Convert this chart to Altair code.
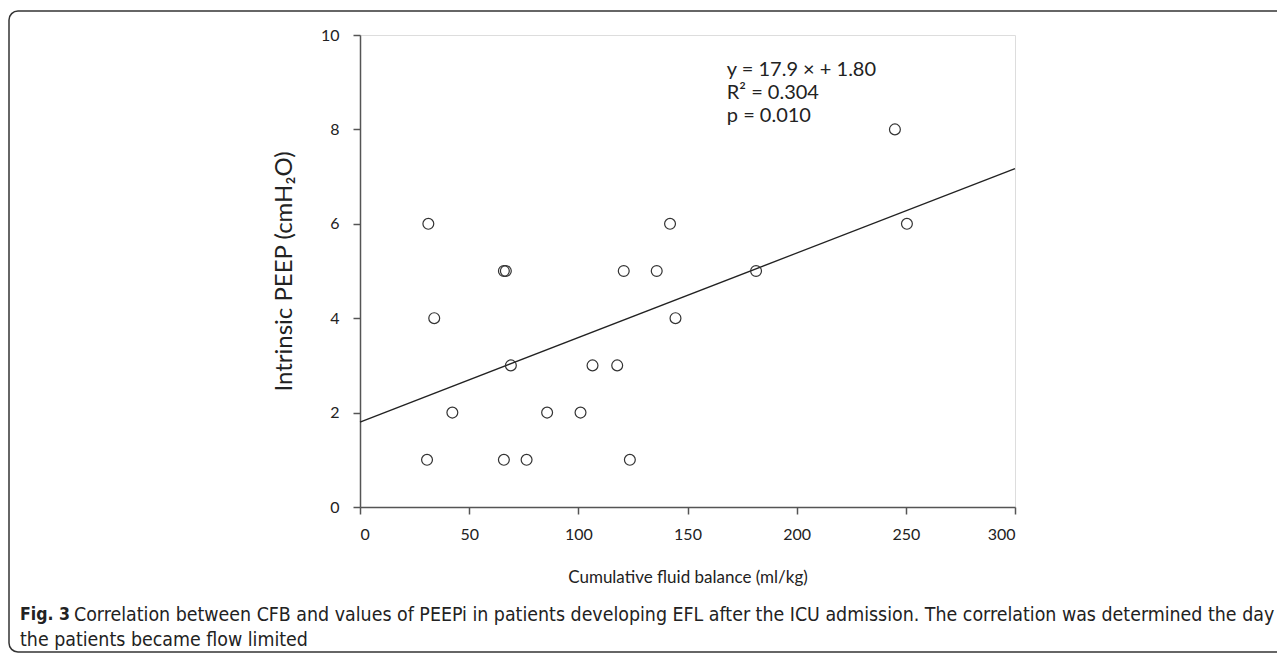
import math
import altair as alt
import pandas as pd

# Data
cfb = [30.7, 31.3, 34.0, 42.3, 65.9, 65.9, 66.8, 69.1, 76.3, 85.7, 101.0,
       106.5, 117.8, 120.8, 123.6, 135.9, 142.0, 144.5, 181.4, 245.0, 250.5]
peepi = [1, 6, 4, 2, 1, 5, 5, 3, 1, 2, 2,
         3, 3, 5, 1, 5, 6, 4, 5, 8, 6]

slope = 17.9   # per L/kg
intercept = 1.80
line_x = [0, 300]

annot_lines = ["y = 17.9 \u00d7 + 1.80", "R\u00b2 = 0.304", "p = 0.010"]
annot_y = [9.25, 8.78, 8.28]
annot_x = [168, 168, 168]

caption_bold = "Fig. 3"
caption_l1 = ("Correlation between CFB and values of PEEPi in patients developing EFL "
              "after the ICU admission. The correlation was determined the day")
caption_l2 = "the patients became flow limited"

pts = pd.DataFrame({"cfb": cfb, "peepi": peepi})
reg = pd.DataFrame({"cfb": line_x,
                    "peepi": [intercept + slope * v / 1000 for v in line_x]})
ann = pd.DataFrame({"cfb": annot_x, "peepi": annot_y, "t": annot_lines})

xs = alt.Scale(domain=[0, 300], nice=False)
ys = alt.Scale(domain=[0, 10], nice=False)

xax = alt.Axis(values=[0, 50, 100, 150, 200, 250, 300], grid=False, tickSize=7,
               labelPadding=12, titlePadding=27, labelFontSize=16, titleFontSize=17,
               labelFont="Lato", titleFont="Lato", titleFontWeight="normal",
               domainColor="#555", tickColor="#555", domainWidth=1.5, tickWidth=1.5,
               labelColor="#222", titleColor="#222")
yax = alt.Axis(values=[0, 2, 4, 6, 8, 10], grid=False, tickSize=7,
               labelPadding=14, titlePadding=24, labelFontSize=16, titleFontSize=24,
               labelFont="Lato", titleFont="Lato", titleFontWeight="normal",
               domainColor="#555", tickColor="#555", domainWidth=1.5, tickWidth=1.5,
               labelColor="#222", titleColor="#222")

points = alt.Chart(pts).mark_point(filled=False, size=118, stroke="#333",
                                   strokeWidth=1.2, opacity=1).encode(
    x=alt.X("cfb:Q", scale=xs, axis=xax, title="Cumulative fluid balance (ml/kg)"),
    y=alt.Y("peepi:Q", scale=ys, axis=yax, title="Intrinsic PEEP (cmH\u2082O)"),
)

line = alt.Chart(reg).mark_line(color="#222", strokeWidth=1.3).encode(
    x=alt.X("cfb:Q", scale=xs), y=alt.Y("peepi:Q", scale=ys))

text = alt.Chart(ann).mark_text(align="left", baseline="middle", font="Lato",
                                fontSize=20, color="#222").encode(
    x=alt.X("cfb:Q", scale=xs), y=alt.Y("peepi:Q", scale=ys), text="t:N")

# Decorative figure frame (rounded on the left, open at the right edge)
one = pd.DataFrame({"k": [0]})
FL, FT, FB, R, FR = -351, -24, 617, 9, 917
fc = "#333"
left_rule = alt.Chart(one).mark_rule(color=fc, strokeWidth=1.5).encode(
    x=alt.value(FL), y=alt.value(FT + R), y2=alt.value(FB - R))
top_rule = alt.Chart(one).mark_rule(color=fc, strokeWidth=1.5).encode(
    x=alt.value(FL + R), x2=alt.value(FR), y=alt.value(FT))
bot_rule = alt.Chart(one).mark_rule(color=fc, strokeWidth=1.5).encode(
    x=alt.value(FL + R), x2=alt.value(FR), y=alt.value(FB))
arc_tl = alt.Chart(one).mark_arc(color=fc, innerRadius=R - 0.75, outerRadius=R + 0.75,
                                 theta=1.5 * math.pi, theta2=2 * math.pi).encode(
    x=alt.value(FL + R), y=alt.value(FT + R))
arc_bl = alt.Chart(one).mark_arc(color=fc, innerRadius=R - 0.75, outerRadius=R + 0.75,
                                 theta=math.pi, theta2=1.5 * math.pi).encode(
    x=alt.value(FL + R), y=alt.value(FB - R))

cap_b = alt.Chart(one).mark_text(align="left", baseline="middle",
                                 font="DejaVu Sans Condensed", fontWeight="bold",
                                 fontSize=17.5, color="#222").encode(
    x=alt.value(-340), y=alt.value(580), text=alt.value(caption_bold))
cap_1 = alt.Chart(one).mark_text(align="left", baseline="middle",
                                 font="DejaVu Sans Condensed",
                                 fontSize=19.4, color="#222").encode(
    x=alt.value(-286), y=alt.value(580), text=alt.value(caption_l1))
cap_2 = alt.Chart(one).mark_text(align="left", baseline="middle",
                                 font="DejaVu Sans Condensed",
                                 fontSize=19.4, color="#222").encode(
    x=alt.value(-340), y=alt.value(605), text=alt.value(caption_l2))

chart = alt.layer(left_rule, top_rule, bot_rule, arc_tl, arc_bl, line, points, text,
                  cap_b, cap_1, cap_2).properties(
    width=655, height=472, autosize="none",
    padding={"left": 352, "top": 27, "right": 264, "bottom": 148},
).configure_view(stroke="#555", strokeWidth=1.5).configure(background="white")

chart.save("out.html", embed_options={"renderer": "svg", "actions": False})
